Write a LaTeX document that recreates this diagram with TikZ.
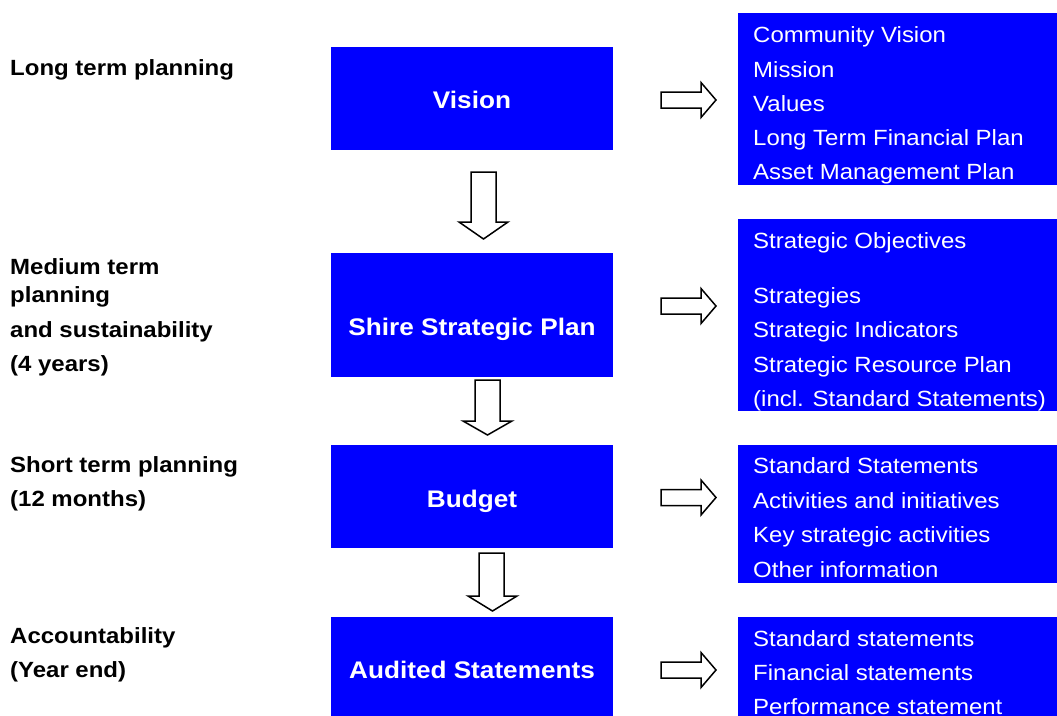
\documentclass[tikz,border=0pt]{standalone}
\usepackage{fontspec}
\setmainfont{Liberation Sans}[FakeStretch=1.09]
\definecolor{planblue}{RGB}{0,0,255}
\begin{document}
\begin{tikzpicture}[x=1pt,y=-1pt,
  stagebox/.style={fill=planblue, draw=none, inner sep=0pt, anchor=north west},
  stagetitle/.style={text=white, inner sep=0pt, anchor=base, font=\fontsize{24}{28}\selectfont\bfseries},
  itemtext/.style={text=white, inner sep=0pt, anchor=base west, font=\fontsize{22}{26}\selectfont},
  horizon/.style={text=black, inner sep=0pt, anchor=base west, font=\fontsize{22}{26}\selectfont\bfseries},
  blockline/.style={draw=black, fill=white, line width=1.5pt, line join=miter},
  pics/rightblock/.style={code={
    \draw[blockline] (0,-8) -- (40,-8) -- (40,-17.5) -- (55,0) -- (40,17.5) -- (40,8) -- (0,8) -- cycle;
  }}
]
\useasboundingbox (0,0) rectangle (1057,715);
\clip (0,0) rectangle (1057,715);

% planning stages (centre column)
\node[stagebox, minimum width=282pt, minimum height=103pt] (vision) at (331,47) {};
\node[stagebox, minimum width=282pt, minimum height=124pt] (plan) at (331,253) {};
\node[stagebox, minimum width=282pt, minimum height=103pt] (budget) at (331,445) {};
\node[stagebox, minimum width=282pt, minimum height=130pt] (audit) at (331,617) {};

\node[stagetitle] (visiont) at (472,108.6) {Vision};
\node[stagetitle] (plant) at (472,335.6) {Shire Strategic Plan};
\node[stagetitle] (budgett) at (472,507.6) {Budget};
\node[stagetitle] (auditt) at (472,678.6) {Audited Statements};

% contents of each stage (right column)
\node[stagebox, minimum width=340pt, minimum height=172pt] (visionlist) at (738,13) {};
\node[stagebox, minimum width=340pt, minimum height=192pt] (planlist) at (738,219) {};
\node[stagebox, minimum width=340pt, minimum height=138pt] (budgetlist) at (738,445) {};
\node[stagebox, minimum width=340pt, minimum height=130pt] (auditlist) at (738,617) {};

\node[itemtext] (v1) at (753,42) {Community Vision};
\node[itemtext] (v2) at (753,77) {Mission};
\node[itemtext] (v3) at (753,111) {Values};
\node[itemtext] (v4) at (753,145) {Long Term Financial Plan};
\node[itemtext] (v5) at (753,179) {Asset Management Plan};

\node[itemtext] (p1) at (753,248) {Strategic Objectives};
\node[itemtext] (p2) at (753,303) {Strategies};
\node[itemtext] (p3) at (753,337) {Strategic Indicators};
\node[itemtext] (p4) at (753,372) {Strategic Resource Plan};
\node[itemtext] (p5) at (753,406) {(incl. Standard Statements)};

\node[itemtext] (b1) at (753,473) {Standard Statements};
\node[itemtext] (b2) at (753,508) {Activities and initiatives};
\node[itemtext] (b3) at (753,542) {Key strategic activities};
\node[itemtext] (b4) at (753,577) {Other information};

\node[itemtext] (a1) at (753,646) {Standard statements};
\node[itemtext] (a2) at (753,680) {Financial statements};
\node[itemtext] (a3) at (753,714) {Performance statement};

% planning horizons (left column)
\node[horizon] (h1) at (10,75) {Long term planning};
\node[horizon] (h2a) at (10,274) {Medium term};
\node[horizon] (h2b) at (10,302) {planning};
\node[horizon] (h2c) at (10,337) {and sustainability};
\node[horizon] (h2d) at (10,371) {(4 years)};
\node[horizon] (h3a) at (10,472) {Short term planning};
\node[horizon] (h3b) at (10,506) {(12 months)};
\node[horizon] (h4a) at (10,643) {Accountability};
\node[horizon] (h4b) at (10,677) {(Year end)};

% block arrows between stages
\draw[blockline] (471,172) -- (496,172) -- (496,222) -- (508,222) -- (483.5,239) -- (459,222) -- (471,222) -- cycle;
\draw[blockline] (475,380) -- (500,380) -- (500,421) -- (512,421) -- (487.5,435) -- (463,421) -- (475,421) -- cycle;
\draw[blockline] (479,553) -- (504,553) -- (504,596) -- (517,596) -- (492.5,611) -- (468,596) -- (479,596) -- cycle;

% block arrows towards the contents
\pic at (661,100) {rightblock};
\pic at (661,306) {rightblock};
\pic at (661,497.5) {rightblock};
\pic at (661,670) {rightblock};
\end{tikzpicture}
\end{document}
